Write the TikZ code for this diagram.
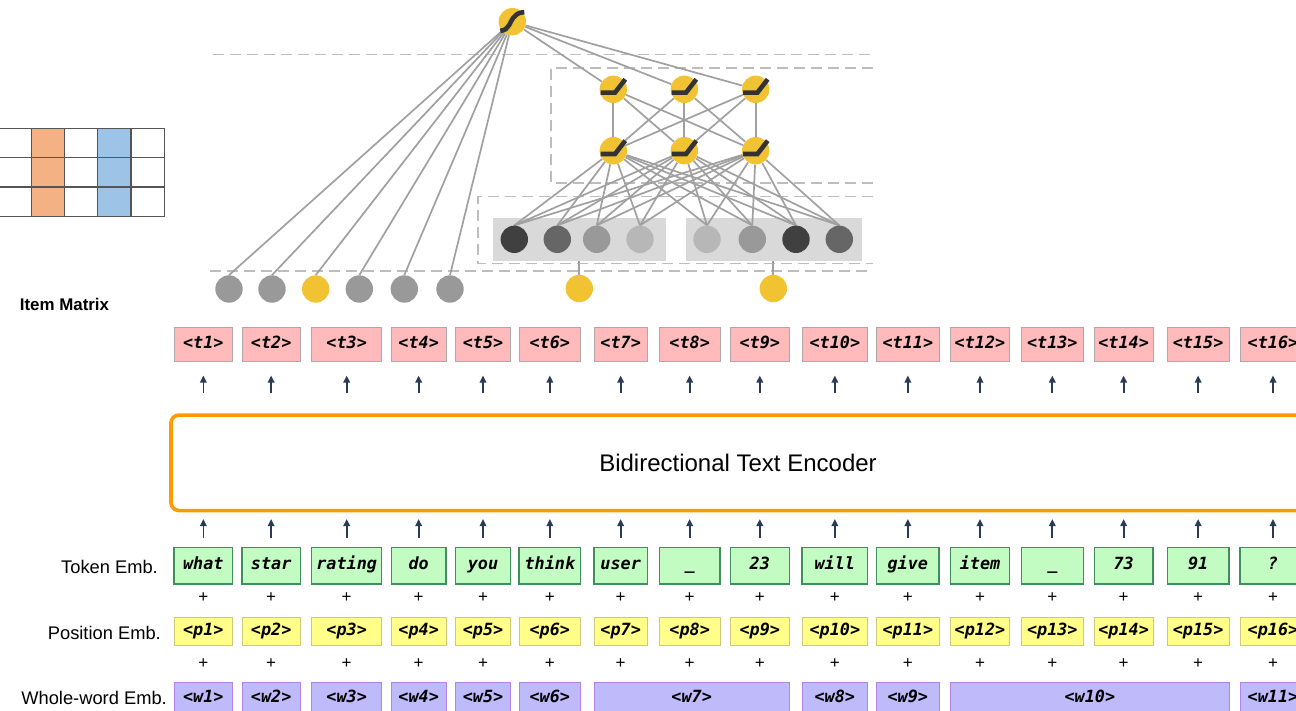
\documentclass[tikz,border=0pt]{standalone}
\usepackage{fontspec}
\setmainfont{Liberation Sans}
\newfontfamily\monof{DejaVu Sans Mono}
\usetikzlibrary{arrows.meta,calc}
\definecolor{tpink}{HTML}{FFBBBB}
\definecolor{tpinkd}{HTML}{B0A8A8}
\definecolor{kgreen}{HTML}{C2FCC2}
\definecolor{kgreend}{HTML}{3E8E5E}
\definecolor{pyel}{HTML}{FFFF8A}
\definecolor{pyeld}{HTML}{CFC77A}
\definecolor{wpur}{HTML}{BFBBFB}
\definecolor{wpurd}{HTML}{B284EA}
\definecolor{encor}{HTML}{FF9900}
\definecolor{navy}{HTML}{2B3A55}
\definecolor{nyel}{HTML}{F1C232}
\definecolor{dashg}{HTML}{BDBDBD}
\definecolor{lineg}{HTML}{A0A0A0}
\definecolor{rectg}{HTML}{D9D9D9}
\definecolor{g1}{HTML}{404040}
\definecolor{g2}{HTML}{666666}
\definecolor{g3}{HTML}{999999}
\definecolor{g4}{HTML}{B7B7B7}
\definecolor{morange}{HTML}{F4B183}
\definecolor{mblue}{HTML}{9DC3E6}
\definecolor{mgrid}{HTML}{555555}
\pgfdeclarelayer{back}
\pgfdeclarelayer{mid}
\pgfsetlayers{back,mid,main}
\begin{document}
\begin{tikzpicture}[x=1pt,y=-1pt,
  boxbase/.style={rectangle,inner sep=0pt,text height=11.5pt,text depth=3.2pt,
     font=\monof\bfseries\itshape\fontsize{16.8}{18}\selectfont},
  tbox/.style={boxbase,fill=tpink,draw=tpinkd,line width=1pt,minimum height=33.7pt},
  kbox/.style={boxbase,fill=kgreen,draw=kgreend,line width=1.4pt,minimum height=36.3pt},
  pbox/.style={boxbase,fill=pyel,draw=pyeld,line width=1pt,minimum height=27.7pt},
  wbox/.style={boxbase,fill=wpur,draw=wpurd,line width=1pt,minimum height=32pt},
  arr/.style={draw=navy,line width=1.7pt,-{Triangle[length=7pt,width=6.5pt]}},
  plus/.style={inner sep=0pt,font=\fontsize{17}{17}\selectfont},
  lab/.style={inner sep=0pt,anchor=east,font=\fontsize{18.3}{20}\selectfont},
  dsh/.style={draw=dashg,line width=1.6pt,dash pattern=on 11pt off 6pt},
  nl/.style={draw=lineg,line width=1.7pt},
  gnode/.style={circle,inner sep=0pt,minimum size=27.4pt,draw=none},
  iconline/.style={draw=black!80,line width=4.6pt,line cap=butt},
  relu/.pic={\draw[iconline] (-12.7,3.3) -- (1.7,3.3) -- (12,-10);},
  sigm/.pic={\draw[iconline] (-12,9) .. controls (-3,9) and (-2,-1) .. (1,-4) .. controls (4,-7) and (6,-9.5) .. (12,-9.5);}
]
\useasboundingbox (0,0) rectangle (1296,710);

% ---------- item matrix ----------
\fill[morange] (31.7,128.3) rectangle (64.3,216.3);
\fill[mblue] (97.7,128.3) rectangle (131,216.3);
\draw[mgrid,line width=1.2pt] (-1.5,128.3) rectangle (164.3,216.3);
\foreach \xx in {31.7,64.3,97.7,131} \draw[mgrid,line width=1.2pt] (\xx,128.3) -- (\xx,216.3);
\foreach \yy in {157.7,187} \draw[mgrid,line width=1.2pt] (-1.5,\yy) -- (164.3,\yy);
\node[inner sep=0pt,font=\bfseries\fontsize{16.9}{18}\selectfont] (im) at (64.5,304) {Item Matrix};

% ---------- dashed frames ----------
\begin{pgfonlayer}{back}
\draw[dsh] (213,54.3) -- (873,54.3);
\draw[dsh] (873,67.7) -- (551,67.7) -- (551,182.7) -- (873,182.7);
\draw[dsh] (873,196.5) -- (478,196.5) -- (478,263.3) -- (873,263.3);
\draw[dsh] (210,271) -- (873,271);
\node[rectangle,fill=rectg,inner sep=0pt,minimum width=172.7pt,minimum height=42.7pt] (rA) at (579.65,239.65) {};
\node[rectangle,fill=rectg,inner sep=0pt,minimum width=176.6pt,minimum height=42.7pt] (rB) at (774,239.65) {};
\end{pgfonlayer}

% ---------- network nodes ----------
\node[gnode,fill=nyel] (top) at (512.3,21.7) {};
\pic at (top) {sigm};
\foreach \n/\xx in {a/613.3,b/684.3,c/755.7}{
  \node[gnode,fill=nyel] (h1\n) at (\xx,89.3) {};
  \pic at (h1\n) {relu};
  \node[gnode,fill=nyel] (h2\n) at (\xx,150.7) {};
  \pic at (h2\n) {relu};
}
\foreach \n/\xx/\cc in {1/514.3/g1,2/557.3/g2,3/596.7/g3,4/640/g4,5/707/g4,6/752.3/g3,7/796/g1,8/839.3/g2}
  \node[gnode,fill=\cc] (e\n) at (\xx,239.3) {};
\foreach \n/\xx/\cc in {1/229/g3,2/272/g3,3/315.7/nyel,4/359.3/g3,5/404.3/g3,6/450/g3}
  \node[gnode,fill=\cc] (b\n) at (\xx,289) {};
\node[gnode,fill=nyel] (y1) at (579.3,288.5) {};
\node[gnode,fill=nyel] (y2) at (773.3,288.5) {};

% ---------- network connections ----------
\begin{pgfonlayer}{mid}
\foreach \n in {1,...,6} \draw[nl] (top) -- (b\n.north);
\foreach \n in {a,b,c} \draw[nl] (top) -- (h1\n);
\foreach \n in {a,b,c} \foreach \m in {a,b,c} \draw[nl] (h1\n) -- (h2\m);
\foreach \n in {a,b,c} \foreach \m in {1,...,8} \draw[nl] (h2\n) -- (e\m.north);
\draw[nl] (y1.north |- rA.south) -- (y1.north);
\draw[nl] (y2.north |- rB.south) -- (y2.north);
\end{pgfonlayer}

% ---------- encoder ----------
\node[rectangle,rounded corners=8pt,draw=encor,line width=3.6pt,fill=white,
      minimum width=1134pt,minimum height=95.5pt,inner sep=0pt,
      font=\fontsize{24}{26}\selectfont] (enc) at (738,462.8) {Bidirectional Text Encoder};

% ---------- row labels ----------
\node[lab] (ltok) at (158,567) {Token Emb.};
\node[lab] (lpos) at (161,633) {Position Emb.};
\node[lab] (lww) at (167,698) {Whole-word Emb.};

% ---------- columns ----------
\foreach \i/\l/\r/\tok in {1/174/232.7/what,2/242/300.3/star,3/311.7/381.7/rating,4/391.3/446/do,
   5/455.7/510.3/you,6/519/580.7/think,7/594/647.3/user,8/659.3/720/\_,9/730.3/789.3/23,
   10/802/867.7/will,11/876.7/939/give,12/950.7/1009.3/item,13/1021.3/1083.3/\_,
   14/1094.3/1153/73,15/1167.3/1229/91,16/1240/1306/?}{
  \pgfmathsetmacro\ww{\r-\l}
  \pgfmathsetmacro\cc{(\l+\r)/2}
  \node[tbox,minimum width=\ww pt] (t\i) at (\cc,344.2) {<t\i>};
  \node[kbox,minimum width=\ww pt] (k\i) at (\cc,565.8) {\tok};
  \node[pbox,minimum width=\ww pt] (p\i) at (\cc,631.2) {<p\i>};
  \node[plus] (pa\i) at (\cc,597.7) {+};
  \node[plus] (pb\i) at (\cc,663.3) {+};
  \draw[arr,shorten <=20.3pt,shorten >=14pt] (enc.north -| t\i.south) -- (t\i.south);
  \draw[arr,shorten <=9.4pt,shorten >=6.7pt] (k\i.north) -- (k\i.north |- enc.south);
}
\foreach \i/\l/\r in {1/174/232.7,2/242/300.3,3/311.7/381.7,4/391.3/446,5/455.7/510.3,
   6/519/580.7,7/594/789.3,8/802/867.7,9/876.7/939,10/950.7/1229,11/1240/1306}{
  \pgfmathsetmacro\ww{\r-\l}
  \pgfmathsetmacro\cc{(\l+\r)/2}
  \node[wbox,minimum width=\ww pt] (w\i) at (\cc,698.3) {<w\i>};
}
\end{tikzpicture}
\end{document}
